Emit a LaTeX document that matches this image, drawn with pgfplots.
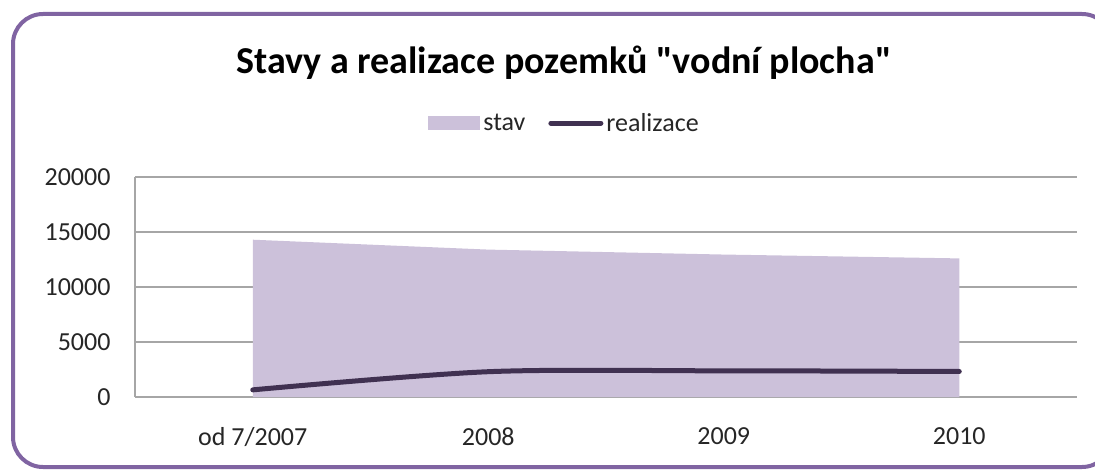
\documentclass[border=0pt]{standalone}
\usepackage{pgfplots}
\pgfplotsset{compat=1.18}
\usepackage{fontspec}
\setmainfont{Carlito}
\newfontfamily\titlefont{Carlito}[Ligatures=NoCommon]
\definecolor{framec}{HTML}{8064A2}
\definecolor{areac}{HTML}{CCC1DA}
\definecolor{linec}{HTML}{403151}
\definecolor{gridc}{HTML}{A6A6A6}
\definecolor{txtc}{HTML}{262626}
\begin{document}
\begin{tikzpicture}[x=1pt,y=1pt]
\path[use as bounding box] (0,0) rectangle (1095,475);
\begin{scope}
\clip (0,0) rectangle (1095,475);
\draw[framec, line width=4pt, rounded corners=30pt] (13,8) rectangle (1112,461);
\end{scope}
\node[font=\titlefont\fontsize{38}{44}\selectfont\bfseries, text=black] at (564,412) {Stavy a realizace pozemků "vodní plocha"};
\begin{axis}[
  at={(135pt,78pt)}, anchor=south west,
  scale only axis, width=942pt, height=220pt,
  xmin=-0.5, xmax=3.5, ymin=0, ymax=20000,
  xtick={0,1,2,3},
  xticklabels={od 7/2007,2008,2009,2010},
  ytick={0,5000,10000,15000,20000},
  scaled y ticks=false,
  /pgf/number format/.cd, set thousands separator={}, assume math mode=true,
  /pgfplots/.cd,
  axis x line*=bottom, axis y line*=left,
  axis line style={gridc, line width=1.2pt},
  ymajorgrids, grid style={gridc, line width=1.2pt},
  major tick length=0pt,
  tick label style={font=\fontsize{26}{30}\selectfont, text=txtc},
  yticklabel style={xshift=-21pt},
  xticklabel style={yshift=-27pt},
  clip=false,
  legend style={at={(axis description cs:0.4565,1.245)}, anchor=center,
    draw=none, fill=none, legend columns=2,
    /tikz/every even column/.append style={column sep=20pt},
    nodes={inner sep=3pt, font=\fontsize{26}{30}\selectfont, text=txtc}},
]
\addplot[fill=areac, draw=none,
  legend image code/.code={\fill[areac] (0pt,-7pt) rectangle (52pt,7pt);}]
  coordinates {(0,14300) (1,13400) (2,12950) (3,12600)} \closedcycle;
\addlegendentry{stav}
\addplot[smooth, line width=5pt, color=linec, line cap=round,
  legend image code/.code={\draw[linec, line width=5pt, line cap=round] (2pt,0pt) -- (52pt,0pt);}]
  coordinates {(0,650) (1,2300) (2,2380) (3,2320)};
\addlegendentry{realizace}
\end{axis}
\end{tikzpicture}
\end{document}
